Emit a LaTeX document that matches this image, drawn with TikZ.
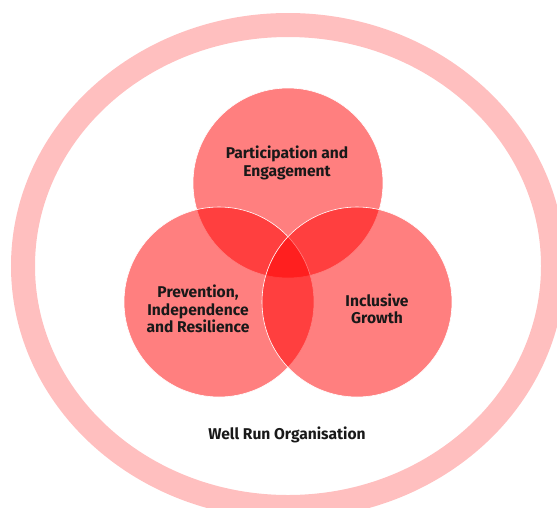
\documentclass[tikz,border=0pt]{standalone}
\usepackage{fontspec}
\setmainfont{Fira Sans}
\usetikzlibrary{positioning}

\begin{document}
\begin{tikzpicture}[x=1pt, y=-1pt,
		venn/.style={circle, fill=red, fill opacity=0.5, draw=white, line width=0.6pt, minimum size=190pt, inner sep=0pt},
		vennText/.style={align=center, font=\fontsize{15.6}{17.5}\selectfont\bfseries, text=black!90}]
		\useasboundingbox (0,0) rectangle (557,507);
		\clip (0,0) rectangle (557,507);

		% outer ring
		\draw[red!25, line width=24pt] (288,266) ellipse [x radius=265, y radius=241];

		% three circles
		\node[venn](participation) at (288,183){};
		\node[venn](prevention) at (219,302){};
		\node[venn](growth) at (357,302){};

		% labels
		\node[vennText](participationText) at (287,163){Participation and\\Engagement};
		\node[vennText](preventionText) at (198,309){Prevention,\\Independence\\and Resilience};
		\node[vennText](growthText) at (377,309){Inclusive\\Growth};
		\node[vennText](orgText) at (287,435){Well Run Organisation};
	\end{tikzpicture}
\end{document}
